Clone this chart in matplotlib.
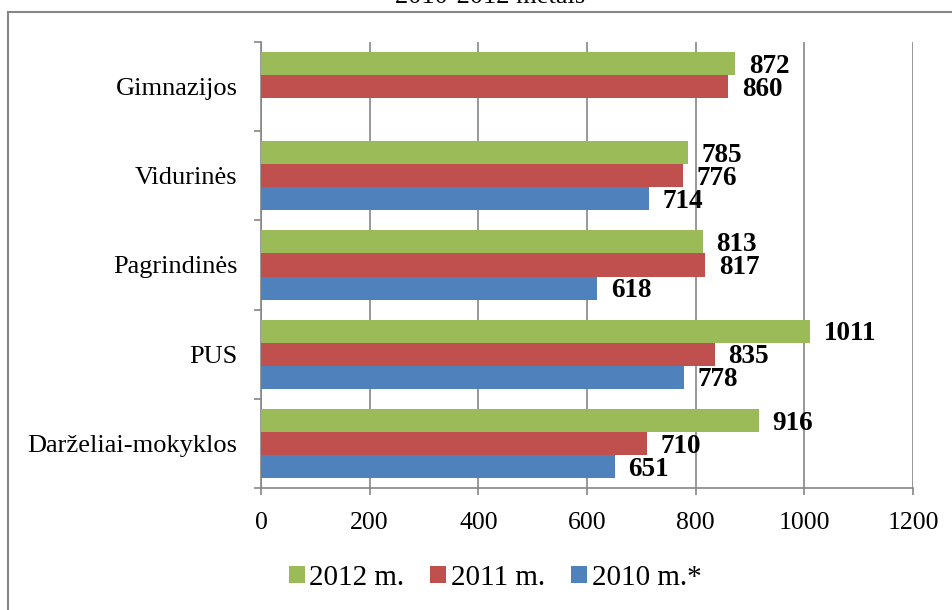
import matplotlib
matplotlib.use("Agg")
import matplotlib.pyplot as plt
import numpy as np
from matplotlib.patches import Patch
from matplotlib.lines import Line2D

categories = ["Darželiai-mokyklos", "PUS", "Pagrindinės", "Vidurinės", "Gimnazijos"]
series_names = ["2012 m.", "2011 m.", "2010 m.*"]
v2012 = [916, 1011, 813, 785, 872]
v2011 = [710, 835, 817, 776, 860]
v2010 = [651, 778, 618, 714, None]
colors = ["#9BBB59", "#C0504D", "#4F81BD"]
xticks = [0, 200, 400, 600, 800, 1000, 1200]

plt.rcParams["font.family"] = ["Liberation Serif", "DejaVu Serif"]
grey = "#868686"

fig = plt.figure(figsize=(9.53, 6.10), dpi=100)
ax = fig.add_axes([261 / 953, 1 - 488 / 610, 652 / 953, 446 / 610])

y = np.arange(len(categories))
h = 0.258
for k, (vals, col) in enumerate(zip([v2012, v2011, v2010], colors)):
    off = h * (1 - k)
    for i, v in enumerate(vals):
        if v is None:
            continue
        ax.barh(y[i] + off, v, height=h, color=col, zorder=3)
        ax.annotate(f"{v}", (v, y[i] + off), xytext=(10, -2), textcoords="offset points",
                    ha="left", va="center", fontsize=19.5, fontweight="bold", zorder=4)

ax.set_xlim(0, 1200)
ax.set_ylim(-0.5, len(categories) - 0.5)
ax.set_xticks(xticks)
ax.set_xticklabels([str(t) for t in xticks])
ax.set_yticks(y)
ax.set_yticklabels(categories)
ax.set_yticks(np.arange(-0.5, len(categories)), minor=True)
ax.tick_params(axis="y", which="major", length=0, pad=17, labelsize=19)
ax.tick_params(axis="y", which="minor", length=5, width=1.2, color=grey)
ax.tick_params(axis="x", length=5, width=1.2, color=grey, pad=12, labelsize=18.5)
ax.xaxis.grid(True, color=grey, linewidth=1.2, zorder=0)
for s in ["top", "right"]:
    ax.spines[s].set_visible(False)
for s in ["left", "bottom"]:
    ax.spines[s].set_color(grey)
    ax.spines[s].set_linewidth(1.2)

handles = [Patch(facecolor=c, label=n) for c, n in zip(colors, series_names)]
fig.legend(handles=handles, loc="center", bbox_to_anchor=(495 / 953, 1 - 578 / 610), ncol=3,
           frameon=False, fontsize=21, handlelength=0.55, handleheight=0.55,
           handletextpad=0.15, columnspacing=0.9)

fig.text(490 / 953, 1 - 3 / 610, "2010-2012 metais", ha="center", va="baseline", fontsize=19)
fig.add_artist(Line2D([8 / 953, 8 / 953], [0, 1 - 12 / 610], color=grey, linewidth=1.5))
fig.add_artist(Line2D([8 / 953, 1], [1 - 12 / 610, 1 - 12 / 610], color=grey, linewidth=1.5))

fig.savefig("out.png", dpi=100)
